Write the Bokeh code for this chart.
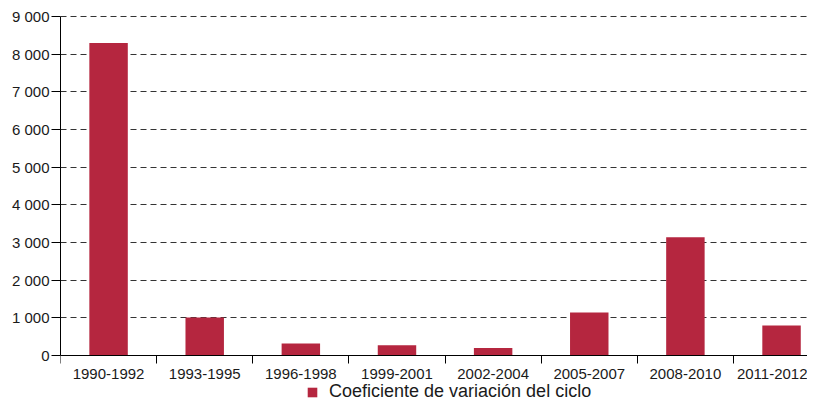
from bokeh.plotting import figure
from bokeh.models import (ColumnDataSource, FixedTicker, Legend, LegendItem, Range1d,
                          CustomJSTickFormatter)
from bokeh.embed import file_html
from bokeh.resources import INLINE

categories = ["1990-1992", "1993-1995", "1996-1998", "1999-2001",
              "2002-2004", "2005-2007", "2008-2010", "2011-2012"]
values = [8300, 1010, 320, 275, 200, 1140, 3140, 800]
y_ticks = [0, 1000, 2000, 3000, 4000, 5000, 6000, 7000, 8000, 9000]
y_tick_labels = ["0", "1 000", "2 000", "3 000", "4 000", "5 000",
                 "6 000", "7 000", "8 000", "9 000"]
series_name = "Coeficiente de variación del ciclo"

FONT = "Liberation Sans"
BAR = "#B5263F"
TXT = "#1a1a1a"

x = list(range(len(categories)))
src = ColumnDataSource(dict(x=x, top=values, cat=categories))

# frame reaches the bottom of the figure so that the legend can sit under the axis
p = figure(width=807, height=402, output_backend="svg", toolbar_location=None,
           x_range=Range1d(-0.5, 7.27), y_range=Range1d(-1247, 9027),
           min_border_left=60, min_border_right=0, min_border_top=15,
           min_border_bottom=0)
p.outline_line_color = None
p.background_fill_color = "white"
p.border_fill_color = "white"

r = p.vbar(x="x", top="top", width=0.4, source=src,
           fill_color=BAR, line_color=None)

# x axis, placed at y = 0
xa = p.xaxis[0]
xa.fixed_location = 0
xa.ticker = FixedTicker(ticks=x, minor_ticks=[i - 0.5 for i in range(len(categories) + 1)])
xa.formatter = CustomJSTickFormatter(args=dict(labels=categories),
                                     code="const i = Math.round(tick); return labels[i] || '';")
xa.major_tick_out = 0
xa.major_tick_in = 0
xa.minor_tick_out = 8
xa.minor_tick_in = 0
xa.minor_tick_line_color = "black"
xa.axis_line_color = "black"
xa.major_label_standoff = 5
xa.major_label_text_font = FONT
xa.major_label_text_font_size = "15px"
xa.major_label_text_color = TXT

# y axis
ya = p.yaxis[0]
ya.bounds = (0, 9000)
ya.ticker = FixedTicker(ticks=y_ticks)
ya.formatter = CustomJSTickFormatter(args=dict(vals=y_ticks, labels=y_tick_labels),
                                     code="const i = vals.indexOf(tick); return i >= 0 ? labels[i] : '';")
ya.major_tick_out = 9
ya.major_tick_in = 0
ya.minor_tick_out = 0
ya.minor_tick_in = 0
ya.axis_line_color = "black"
ya.major_tick_line_color = "black"
ya.major_label_standoff = 2
ya.major_label_text_font = FONT
ya.major_label_text_font_size = "15px"
ya.major_label_text_color = TXT

p.xgrid.grid_line_color = None
p.ygrid.grid_line_color = "#333333"
p.ygrid.grid_line_dash = "6 4"
p.ygrid.grid_line_width = 1

legend = Legend(items=[LegendItem(label=series_name, renderers=[r])],
                location=(246, 0), orientation="horizontal",
                border_line_color=None, background_fill_alpha=0,
                padding=0, margin=0, glyph_width=12, glyph_height=12,
                label_height=18, label_standoff=11,
                label_text_font=FONT, label_text_font_size="18px",
                label_text_color=TXT)
p.add_layout(legend, "center")

open("out.html", "w").write(file_html(p, INLINE))
